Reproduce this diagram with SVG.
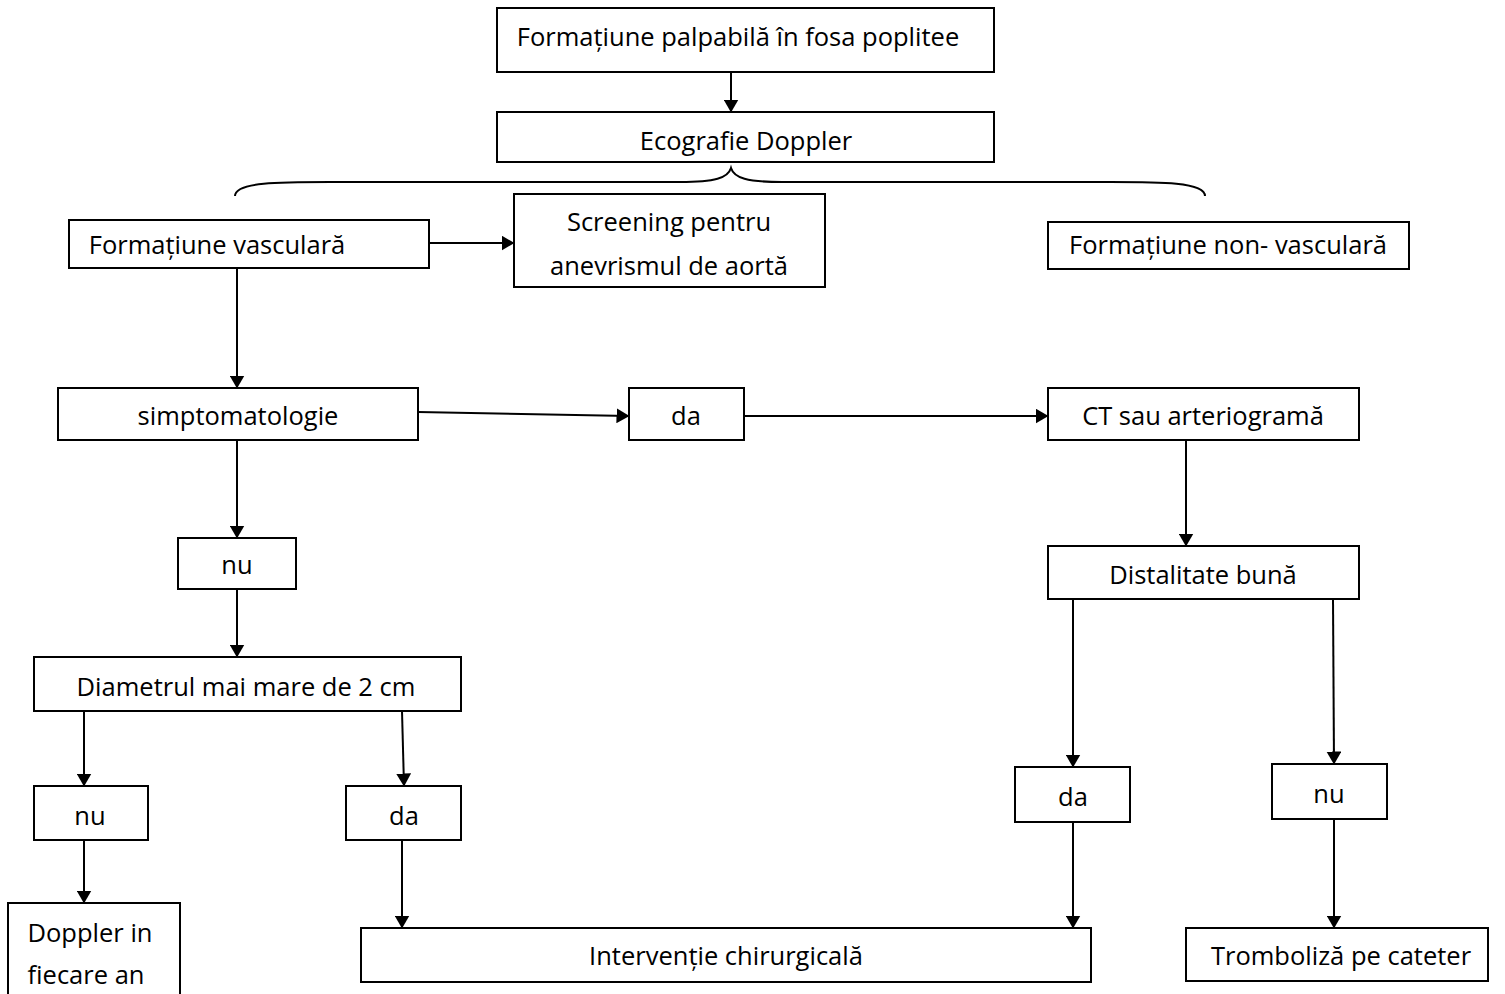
<svg xmlns="http://www.w3.org/2000/svg" width="1505" height="994" viewBox="0 0 1505 994">
<defs>
<marker id="ah" markerWidth="13" markerHeight="15" refX="12.5" refY="7.5" orient="auto" markerUnits="userSpaceOnUse">
<path d="M0,0 L13,7.5 L0,15 Z" fill="#000"/>
</marker>
<style>
.b{fill:#fff;stroke:#000;stroke-width:2}
.t{font-family:"Open Sans","Noto Sans","Liberation Sans",sans-serif;font-size:25.5px;fill:#000;text-anchor:middle}
.c{fill:none;stroke:#000;stroke-width:2;marker-end:url(#ah)}
</style>
</defs>
<rect width="1505" height="994" fill="#fff"/>
<g id="connectors">
<line class="c" x1="731" y1="72" x2="731" y2="112"/>
<path d="M235,196 C235,182 280,182 330,182 L680,182 C715,182 728,178 731,168 C734,178 747,182 782,182 L1110,182 C1160,182 1205,182 1205,196" fill="none" stroke="#000" stroke-width="2"/>
<line class="c" x1="429" y1="243" x2="514" y2="243"/>
<line class="c" x1="237" y1="268" x2="237" y2="388"/>
<line class="c" x1="418" y1="412" x2="629" y2="416"/>
<line class="c" x1="744" y1="416" x2="1048" y2="416"/>
<line class="c" x1="1186" y1="440" x2="1186" y2="546"/>
<line class="c" x1="237" y1="440" x2="237" y2="538"/>
<line class="c" x1="237" y1="589" x2="237" y2="657"/>
<line class="c" x1="84" y1="711" x2="84" y2="786"/>
<line class="c" x1="402" y1="711" x2="404" y2="786"/>
<line class="c" x1="84" y1="840" x2="84" y2="903"/>
<line class="c" x1="402" y1="840" x2="402" y2="928"/>
<line class="c" x1="1073" y1="599" x2="1073" y2="767"/>
<line class="c" x1="1333" y1="599" x2="1334" y2="764"/>
<line class="c" x1="1073" y1="822" x2="1073" y2="928"/>
<line class="c" x1="1334" y1="819" x2="1334" y2="928"/>
</g>
<g id="n1"><rect class="b" x="497" y="8" width="497" height="64"/><text class="t" x="738" y="46">Formațiune palpabilă în fosa poplitee</text></g>
<g id="n2"><rect class="b" x="497" y="112" width="497" height="50"/><text class="t" x="746" y="150">Ecografie Doppler</text></g>
<g id="n3"><rect class="b" x="69" y="220" width="360" height="48"/><text class="t" x="217" y="254">Formațiune vasculară</text></g>
<g id="n4"><rect class="b" x="514" y="194" width="311" height="93"/><text class="t" x="669" y="231">Screening pentru</text><text class="t" x="669" y="275">anevrismul de aortă</text></g>
<g id="n5"><rect class="b" x="1048" y="222" width="361" height="47"/><text class="t" x="1228" y="254">Formațiune non- vasculară</text></g>
<g id="n6"><rect class="b" x="58" y="388" width="360" height="52"/><text class="t" x="238" y="425">simptomatologie</text></g>
<g id="n7"><rect class="b" x="629" y="388" width="115" height="52"/><text class="t" x="686" y="425">da</text></g>
<g id="n8"><rect class="b" x="1048" y="388" width="311" height="52"/><text class="t" x="1203" y="425">CT sau arteriogramă</text></g>
<g id="n9"><rect class="b" x="1048" y="546" width="311" height="53"/><text class="t" x="1203" y="584">Distalitate bună</text></g>
<g id="n10"><rect class="b" x="178" y="538" width="118" height="51"/><text class="t" x="237" y="574">nu</text></g>
<g id="n11"><rect class="b" x="34" y="657" width="427" height="54"/><text class="t" x="246" y="696">Diametrul mai mare de 2 cm</text></g>
<g id="n12"><rect class="b" x="34" y="786" width="114" height="54"/><text class="t" x="90" y="825">nu</text></g>
<g id="n13"><rect class="b" x="346" y="786" width="115" height="54"/><text class="t" x="404" y="825">da</text></g>
<g id="n14"><rect class="b" x="8" y="903" width="172" height="100"/><text class="t" x="90" y="942">Doppler in</text><text class="t" x="86" y="984">fiecare an</text></g>
<g id="n15"><rect class="b" x="1015" y="767" width="115" height="55"/><text class="t" x="1073" y="806">da</text></g>
<g id="n16"><rect class="b" x="1272" y="764" width="115" height="55"/><text class="t" x="1329" y="803">nu</text></g>
<g id="n17"><rect class="b" x="361" y="928" width="730" height="54"/><text class="t" x="726" y="965">Intervenție chirurgicală</text></g>
<g id="n18"><rect class="b" x="1186" y="928" width="302" height="53"/><text class="t" x="1341" y="965">Tromboliză pe cateter</text></g>
</svg>
